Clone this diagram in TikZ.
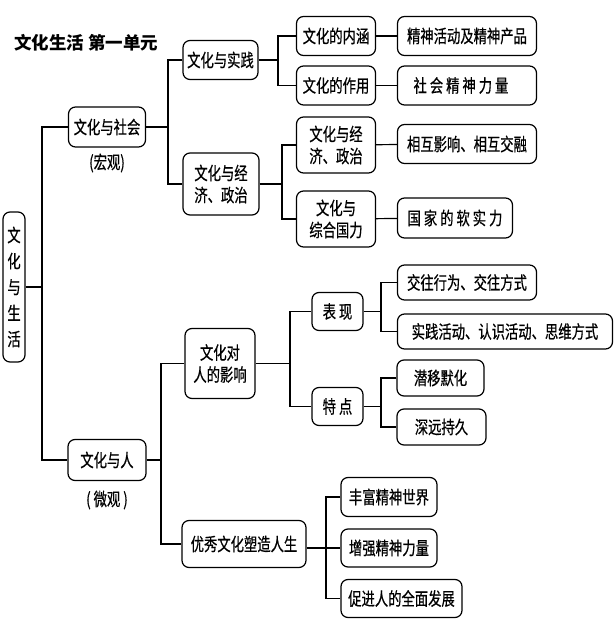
\documentclass[tikz,border=0pt]{standalone}
\usepackage{fontspec}
\newfontfamily\cjk[FakeStretch=0.74,FakeBold=0.6]{Noto Sans CJK SC}
\newfontfamily\cjktitle{Noto Sans CJK SC}
\usetikzlibrary{positioning}

\begin{document}
\begin{tikzpicture}[x=1pt,y=-1pt]
    \tikzset{box/.style= {draw, rounded corners=7pt
    , line width=1.2pt
    , inner sep=1pt
    , align=center
    , minimum height=39pt
    , font=\cjk\fontsize{18}{22}\selectfont
      },
      link/.style={draw, line width=1.2pt},
      note/.style={font=\cjk\fontsize{18}{20}\selectfont}
    }
\useasboundingbox (0,0) rectangle (614,619);

\node [anchor=west, inner sep=0pt, font=\cjktitle\bfseries\fontsize{17.5}{20}\selectfont] (title) at (14,43) {文化生活 第一单元};

\node [box, minimum width=22pt, minimum height=150pt, font=\cjk\fontsize{18}{26}\selectfont] (root) at (14,287) {文\\化\\与\\生\\活};

% macro side
\node [box, minimum width=77pt, minimum height=40pt] (soc) at (107,127) {文化与社会};
\node [note] (soclbl) at (107,163) {(宏观)};
\node [box, minimum width=75pt] (prac) at (220.5,60) {文化与实践};
\node [box, minimum width=76pt, minimum height=62pt] (econ) at (221,184) {文化与经\\济、政治};
\node [box, minimum width=79pt] (mean) at (336,36) {文化的内涵};
\node [box, minimum width=79pt] (role) at (336,85.5) {文化的作用};
\node [box, minimum width=79pt, minimum height=56pt] (econ2) at (336,145) {文化与经\\济、政治};
\node [box, minimum width=79pt, minimum height=56pt] (power) at (336,219) {文化与\\综合国力};
\node [box, minimum width=139pt] (spirit) at (467,36) {精神活动及精神产品};
\node [box, minimum width=139pt] (force) at (467,85.5) {社 会 精 神 力 量\hspace*{12pt}};
\node [box, minimum width=139pt] (mutual) at (467,144) {相互影响、相互交融};
\node [box, minimum width=115pt, minimum height=40pt] (soft) at (455,218) {国 家 的 软 实 力};

% micro side
\node [box, minimum width=78pt, minimum height=41pt] (man) at (107,460) {文化与人};
\node [note] (manlbl) at (107,500) {( 微观 )};
\node [box, minimum width=70pt, minimum height=70pt] (infl) at (220,363.5) {文化对\\人的影响};
\node [box, minimum width=124pt, minimum height=47pt] (shape) at (244,544) {优秀文化塑造人生};
\node [box, minimum width=51pt, minimum height=38pt] (show) at (337.5,311.5) {表 现};
\node [box, minimum width=51pt, minimum height=38pt] (trait) at (337.5,406.5) {特 点};
\node [box, minimum width=139pt, minimum height=35pt] (comm) at (467,282.5) {交往行为、交往方式};
\node [box, minimum width=215pt, minimum height=35pt] (practice) at (505,331.5) {实践活动、认识活动、思维方式};
\node [box, minimum width=87pt, minimum height=36pt] (subtle) at (440.5,378) {潜移默化};
\node [box, minimum width=89pt, minimum height=36pt] (lasting) at (441.5,427) {深远持久};
\node [box, minimum width=96pt] (rich) at (389,497) {丰富精神世界};
\node [box, minimum width=96pt, minimum height=38pt] (strong) at (389,548) {增强精神力量};
\node [box, minimum width=121pt, minimum height=38pt] (dev) at (401.5,598.5) {促进人的全面发展};

 \path[link] (root.east) -- (42,287) coordinate (r0);
 \path[link] (soc.west) -| (r0) |- (man.west);
 \path[link] (soc.east) -- (168,127) coordinate (s0);
 \path[link] (prac.west) -| (s0) |- (econ.west);
 \path[link] (prac.east) -- (278,60) coordinate (p0);
 \path[link] (mean.west) -| (p0) |- (role.west);
 \path[link] (econ.east) -- (282,184) coordinate (e0);
 \path[link] (econ2.west) -| (e0) |- (power.west);
 \path[link] (mean) -- (spirit);
 \path[link] (role) -- (force);
 \path[link] (econ2) -- (mutual);
 \path[link] (power) -- (soft);

 \path[link] (man.east) -- (161,460) coordinate (m0);
 \path[link] (infl.west) -| (m0) |- (shape.west);
 \path[link] (infl.east) -- (290,363.5) coordinate (i0);
 \path[link] (show.west) -| (i0) |- (trait.west);
 \path[link] (show.east) -- (381,311.5) coordinate (h0);
 \path[link] (comm.west) -| (h0) |- (practice.west);
 \path[link] (trait.east) -- (381,406.5) coordinate (t0);
 \path[link] (subtle.west) -| (t0) |- (lasting.west);
 \path[link] (shape.east |- strong.west) -- (326,548) coordinate (g0);
 \path[link] (rich.west) -| (g0) |- (dev.west);
 \path[link] (g0) -- (strong.west);
\end{tikzpicture}
\end{document}
